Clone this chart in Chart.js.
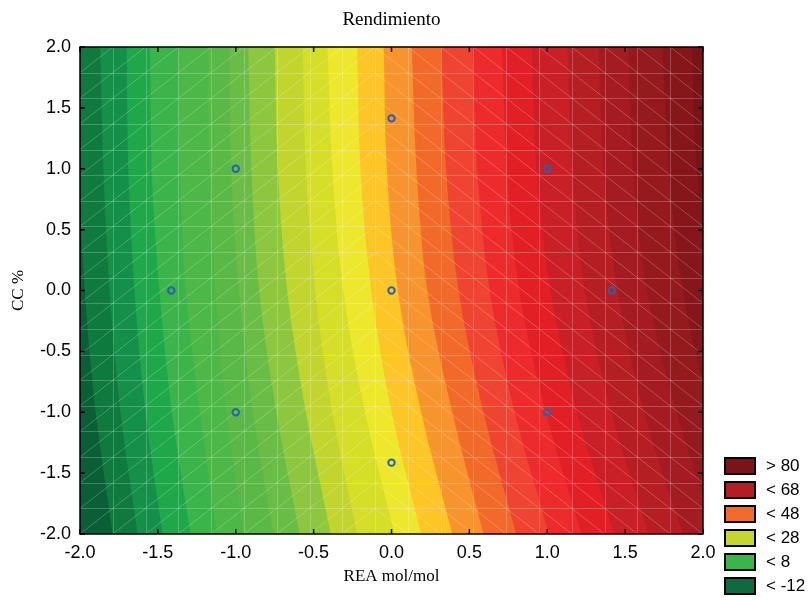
<!DOCTYPE html>
<html>
<head>
<meta charset="utf-8">
<script src="https://cdn.jsdelivr.net/npm/chart.js@4.4.1/dist/chart.umd.min.js"></script>
<style>
  body { margin: 0; background: #fff; }
  #wrap { position: relative; width: 810px; height: 600px; }
  #legend { position: absolute; left: 724px; top: 457px; font: 17px 'Liberation Sans', Arial, sans-serif; color: #000; }
  .item { display: flex; align-items: center; height: 18px; margin-bottom: 6px; }
  .sw { width: 32px; height: 18px; box-sizing: border-box; border: 2px solid #000; margin-right: 10px; }
</style>
</head>
<body>
<div id="wrap">
  <canvas id="chart" width="810" height="600"></canvas>
  <div id="legend"></div>
</div>
<script>
// contour levels of "Rendimiento" and where each boundary crosses the rows below
const levels = [-8, -4, 0, 4, 8, 12, 16, 20, 24, 28, 32, 36, 40, 44, 48, 52, 56, 60, 64, 68, 72, 76, 80];
const rowY = [2, 1, 0, -1, -2];
const xAtY2 = [-2.03, -1.87, -1.70, -1.55, -1.37, -1.18, -1.04, -0.92, -0.75, -0.57, -0.41, -0.22, -0.05, 0.13, 0.32, 0.52, 0.71, 0.90, 1.13, 1.33, 1.52, 1.74, 1.93];
const xAtY1 = [-2.01, -1.85, -1.69, -1.54, -1.36, -1.17, -1.03, -0.90, -0.73, -0.55, -0.38, -0.20, -0.03, 0.16, 0.35, 0.55, 0.74, 0.93, 1.16, 1.36, 1.55, 1.78, 1.96];
const xAtY0 = [-1.97, -1.81, -1.65, -1.49, -1.32, -1.13, -0.98, -0.85, -0.67, -0.49, -0.31, -0.13, 0.04, 0.23, 0.43, 0.63, 0.82, 1.02, 1.24, 1.45, 1.64, 1.87, 2.06];
const xAtYm1 = [-1.90, -1.74, -1.58, -1.41, -1.23, -1.06, -0.89, -0.74, -0.55, -0.38, -0.17, 0.00, 0.19, 0.39, 0.59, 0.79, 0.99, 1.19, 1.41, 1.62, 1.83, 2.05, 2.25];
const xAtYm2 = [-1.79, -1.63, -1.47, -1.29, -1.12, -0.95, -0.76, -0.59, -0.39, -0.22, 0.02, 0.19, 0.39, 0.59, 0.80, 1.01, 1.22, 1.43, 1.65, 1.87, 2.08, 2.30, 2.52];

// experimental design points
const designX = [-1, 1, -1, 1, -1.414, 1.414, 0, 0, 0];
const designY = [1, 1, -1, -1, 0, 0, 1.414, -1.414, 0];

const xTickValues = [-2, -1.5, -1, -0.5, 0, 0.5, 1, 1.5, 2];
const yTickValues = [-2, -1.5, -1, -0.5, 0, 0.5, 1, 1.5, 2];

const legendLabels = ["> 80", "< 68", "< 48", "< 28", "< 8", "< -12"];
const legendColors = ["#7b1418", "#b21e24", "#f26b2b", "#c4d72e", "#3ab54a", "#0e6b3f"];

// colour of the band lying left of each level, last one is the band above the top level
const bandColors = [
  "#0b5f36", "#0f7a3d", "#15904a", "#1fa84a", "#3bb54a", "#4db748", "#5ab946", "#69bc45",
  "#8dc63f", "#c2d52f", "#d6df27", "#ede82c", "#fec526", "#f7942d", "#f26a2a", "#ef4431",
  "#ee2b2c", "#e31f26", "#c91f26", "#b51f24", "#a41c22", "#951a1e", "#86161a", "#7a1216",
];

const rows = [xAtY2, xAtY1, xAtY0, xAtYm1, xAtYm2];
const MESH = 19;

const contourSets = levels.map((lv, i) => ({
  label: `${lv}`,
  data: rowY.map((y, r) => ({ x: rows[r][i], y })),
  borderWidth: 0,
  pointRadius: 0,
  fill: false,
  cubicInterpolationMode: "monotone",
  indexAxis: "y",
}));

const pointsIndex = contourSets.length;

const areaBg = {
  id: "areaBg",
  beforeDatasetsDraw(chart) {
    const { ctx, chartArea: a } = chart;
    ctx.save();
    ctx.fillStyle = bandColors[bandColors.length - 1];
    ctx.fillRect(a.left, a.top, a.width, a.height);
    ctx.restore();
  },
};

// fill from each contour line to the left edge; datasets are drawn from the last one,
// so lower levels end up on top
const bandFill = {
  id: "bandFill",
  beforeDatasetDraw(chart, args) {
    if (args.index >= pointsIndex) return;
    const { ctx, chartArea: a } = chart;
    const line = args.meta.dataset;
    line.updateControlPoints(a, "y");
    const pts = line.points;
    ctx.save();
    ctx.beginPath();
    ctx.rect(a.left, a.top, a.width, a.height);
    ctx.clip();
    ctx.beginPath();
    line.path(ctx);
    ctx.lineTo(a.left - 10, pts[pts.length - 1].y);
    ctx.lineTo(a.left - 10, pts[0].y);
    ctx.closePath();
    ctx.fillStyle = bandColors[args.index];
    ctx.fill();
    ctx.restore();
  },
};

// faint triangulation mesh of the fitted surface
const mesh = {
  id: "mesh",
  beforeDatasetDraw(chart, args) {
    if (args.index !== pointsIndex) return;
    const { ctx, chartArea: a, scales: { x, y } } = chart;
    const step = 4 / MESH;
    ctx.save();
    ctx.strokeStyle = "rgba(255,255,255,0.22)";
    ctx.lineWidth = 1;
    ctx.beginPath();
    for (let k = 1; k < MESH; k++) {
      const px = Math.round(x.getPixelForValue(-2 + k * step)) + 0.5;
      const py = Math.round(y.getPixelForValue(-2 + k * step)) + 0.5;
      ctx.moveTo(px, a.top); ctx.lineTo(px, a.bottom);
      ctx.moveTo(a.left, py); ctx.lineTo(a.right, py);
    }
    for (let i = 0; i < MESH; i++) {
      const x0 = x.getPixelForValue(-2 + i * step);
      const x1 = x.getPixelForValue(-2 + (i + 1) * step);
      const mid = -2 + (i + 0.5) * step;
      for (let j = 0; j < MESH; j++) {
        const y0 = y.getPixelForValue(-2 + j * step);
        const y1 = y.getPixelForValue(-2 + (j + 1) * step);
        if (mid < -0.01) { ctx.moveTo(x0, y0); ctx.lineTo(x1, y1); }
        else { ctx.moveTo(x0, y1); ctx.lineTo(x1, y0); }
      }
    }
    ctx.stroke();
    ctx.restore();
  },
};

const frame = {
  id: "frame",
  afterDraw(chart) {
    const { ctx, chartArea: a, scales: { x, y } } = chart;
    const t = 5;
    ctx.save();
    ctx.strokeStyle = "#000";
    ctx.lineWidth = 1.5;
    ctx.strokeRect(a.left, a.top, a.width, a.height);
    ctx.beginPath();
    xTickValues.forEach((v) => {
      const px = x.getPixelForValue(v);
      ctx.moveTo(px, a.top); ctx.lineTo(px, a.top + t);
      ctx.moveTo(px, a.bottom); ctx.lineTo(px, a.bottom - t);
    });
    yTickValues.forEach((v) => {
      const py = y.getPixelForValue(v);
      ctx.moveTo(a.left, py); ctx.lineTo(a.left + t, py);
      ctx.moveTo(a.right, py); ctx.lineTo(a.right - t, py);
    });
    ctx.stroke();
    ctx.restore();
  },
};

const tickFont = { family: "'Liberation Sans', Arial, sans-serif", size: 18 };
const serif = "'Liberation Serif', 'Times New Roman', serif";

new Chart(document.getElementById("chart"), {
  type: "line",
  data: {
    datasets: [
      ...contourSets,
      {
        label: "design",
        data: designX.map((x, i) => ({ x, y: designY[i] })),
        showLine: false,
        indexAxis: "y",
        pointRadius: 3.2,
        pointBorderWidth: 2,
        pointBorderColor: "#2563b0",
        pointBackgroundColor: "rgba(0,0,0,0)",
        order: -1,
      },
    ],
  },
  options: {
    responsive: false,
    devicePixelRatio: 1,
    animation: false,
    events: [],
    indexAxis: "y",
    layout: { padding: { right: 107 } },
    plugins: {
      legend: { display: false },
      tooltip: { enabled: false },
      title: {
        display: true,
        text: "Rendimiento",
        fullSize: false,
        color: "#000",
        font: { family: serif, size: 19, weight: "normal" },
        padding: { top: 9, bottom: 15.2 },
      },
    },
    scales: {
      x: {
        type: "linear",
        position: "bottom",
        min: -2,
        max: 2,
        afterBuildTicks: (s) => { s.ticks = xTickValues.map((v) => ({ value: v })); },
        afterFit: (s) => { s.height = 66; },
        grid: { display: false, drawTicks: false },
        border: { display: false },
        ticks: { color: "#000", font: tickFont, padding: 8, maxRotation: 0, callback: (v) => v.toFixed(1) },
        title: { display: true, text: "REA mol/mol", color: "#000", font: { family: serif, size: 17 }, padding: { bottom: 13 } },
      },
      y: {
        type: "linear",
        min: -2,
        max: 2,
        afterBuildTicks: (s) => { s.ticks = yTickValues.map((v) => ({ value: v })); },
        afterFit: (s) => { s.width = 80; },
        grid: { display: false, drawTicks: false },
        border: { display: false },
        ticks: { color: "#000", font: tickFont, padding: 9, callback: (v) => v.toFixed(1) },
        title: { display: true, text: "CC %", color: "#000", font: { family: serif, size: 17 }, padding: { top: 8 } },
      },
    },
  },
  plugins: [areaBg, bandFill, mesh, frame],
});

document.getElementById("legend").innerHTML = legendLabels
  .map((l, i) => `<div class="item"><span class="sw" style="background:${legendColors[i]}"></span><span>${l}</span></div>`)
  .join("");
</script>
</body>
</html>
